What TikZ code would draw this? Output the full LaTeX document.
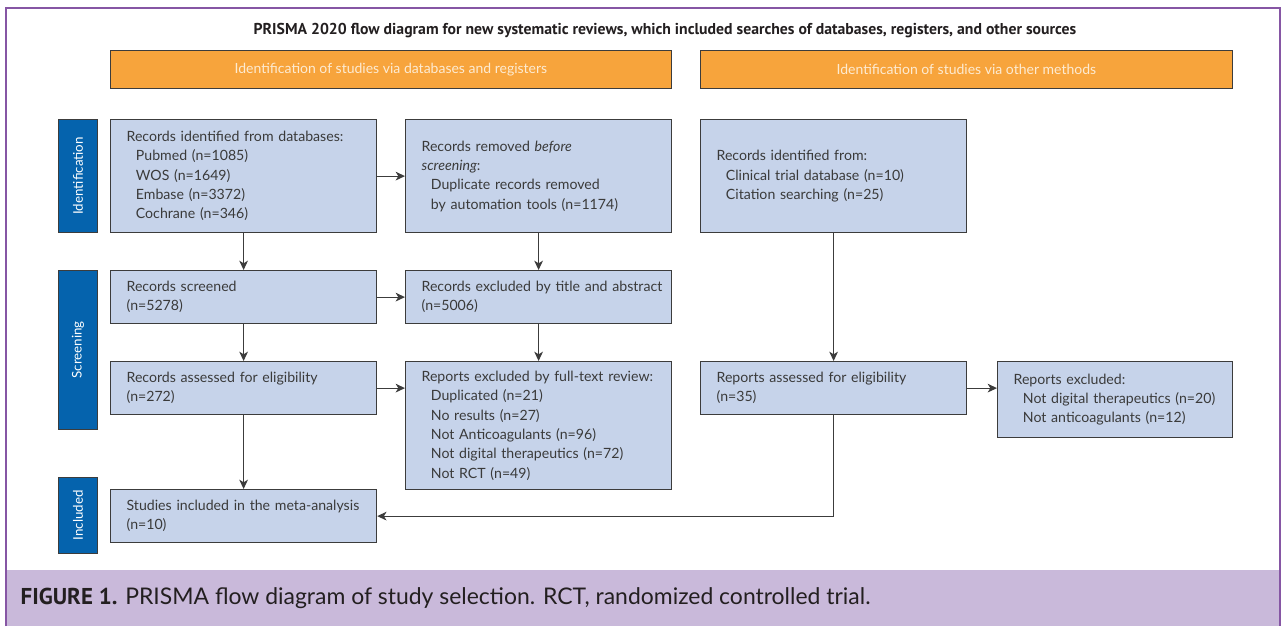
\documentclass[tikz,border=0pt]{standalone}
\usepackage{fontspec}
\setmainfont{Lato}
\newfontfamily\titlefont{PT Sans}
\usetikzlibrary{arrows.meta}
\definecolor{boxfill}{HTML}{C6D3EA}
\definecolor{boxline}{HTML}{3C3C3C}
\definecolor{tabblue}{HTML}{0563AD}
\definecolor{orangebar}{HTML}{F7A43C}
\definecolor{orangetext}{HTML}{FDEBD2}
\definecolor{framepurple}{HTML}{8656A4}
\definecolor{captionbg}{HTML}{C9B9DA}
\definecolor{txt}{HTML}{3A3A3A}
\definecolor{dark}{HTML}{231F20}
\newcommand{\ind}{\hspace*{7pt}}
\begin{document}
\begin{tikzpicture}[x=0.75pt,y=-0.75pt,
  box/.style={draw=boxline, fill=boxfill, line width=0.9pt, anchor=north west,
    inner xsep=12pt, inner ysep=0pt, align=left, text=txt,
    font=\fontsize{10.6}{14.5}\selectfont},
  wide/.style={minimum width=199.5pt, text width=175.5pt},
  narrow/.style={minimum width=176.25pt, text width=152.25pt},
  tall/.style={minimum height=84.75pt},
  short/.style={minimum height=39.75pt},
  tab/.style={draw=boxline, fill=tabblue, line width=0.6pt, anchor=north west,
    minimum width=29.25pt, inner sep=0pt, text=white,
    font=\fontsize{10}{12}\selectfont},
  bar/.style={draw=boxline, fill=orangebar, line width=0.6pt, anchor=north west,
    minimum height=28.5pt, inner sep=0pt, text=orangetext,
    font=\fontsize{10.5}{12}\selectfont},
  arr/.style={draw=boxline, line width=0.9pt, -{Stealth[length=7pt,width=6.5pt,inset=2pt]}}
]
\useasboundingbox (0,0) rectangle (1285,626);
\fill[white] (0,0) rectangle (1285,626);
\fill[captionbg] (6,570) rectangle (1280,626);
\draw[framepurple, line width=2pt] (6,626) -- (6,8) -- (1280,8) -- (1280,626);

\node[text=dark, font=\titlefont\bfseries\fontsize{11.8}{13}\selectfont] (title) at (665,31)
  {PRISMA 2020 flow diagram for new systematic reviews, which included searches of databases, registers, and other sources};

\node[bar, minimum width=420.75pt] (bar1) at (110,50) {Identification of studies via databases and registers};
\node[bar, minimum width=399pt] (bar2) at (700,50) {Identification of studies via other methods};

\node[tab, minimum height=84.75pt] (t1) at (58,119) {\rotatebox{90}{Identification}};
\node[tab, minimum height=119.25pt] (t2) at (58,270) {\rotatebox{90}{Screening}};
\node[tab, minimum height=57pt] (t3) at (58,477) {\rotatebox{90}{Included}};

\node[box, wide, tall] (A) at (110,119) {Records identified from databases:\\
  \ind Pubmed (n=1085)\\ \ind WOS (n=1649)\\ \ind Embase (n=3372)\\ \ind Cochrane (n=346)};
\node[box, wide, tall] (B) at (405,119) {Records removed \emph{before}\\ \emph{screening}:\\
  \ind Duplicate records removed\\ \ind by automation tools (n=1174)};
\node[box, wide, tall] (C) at (700,119) {Records identified from:\\
  \ind Clinical trial database (n=10)\\ \ind Citation searching (n=25)};

\node[box, wide, short] (D) at (110,270) {Records screened\\(n=5278)};
\node[box, wide, short] (E) at (405,270) {\mbox{Records excluded by title and abstract}\\(n=5006)};

\node[box, wide, short] (F) at (110,361) {Records assessed for eligibility\\(n=272)};
\node[box, wide, minimum height=96pt] (G) at (405,361) {Reports excluded by full-text review:\\
  \ind Duplicated (n=21)\\ \ind No results (n=27)\\ \ind Not Anticoagulants (n=96)\\
  \ind Not digital therapeutics (n=72)\\ \ind Not RCT (n=49)};
\node[box, wide, short] (H) at (700,361) {Reports assessed for eligibility\\(n=35)};
\node[box, narrow, minimum height=57pt] (I) at (997,361) {Reports excluded:\\
  \ind Not digital therapeutics (n=20)\\ \ind Not anticoagulants (n=12)};

\node[box, wide, short] (J) at (110,489) {Studies included in the meta-analysis\\(n=10)};

\draw[arr] (A) -- (B);
\draw[arr] (A) -- (D);
\draw[arr] (B) -- (E);
\draw[arr] (D) -- (E);
\draw[arr] (D) -- (F);
\draw[arr] (E) -- (G);
\draw[arr] (F.east) -- (F.east -| G.west);
\draw[arr] (F) -- (J);
\draw[arr] (C) -- (H);
\draw[arr] (H.east) -- (H.east -| I.west);
\draw[arr] (H.south) |- (J.east);

\node[anchor=west, text=dark, font=\fontsize{17.2}{19}\selectfont] (cap) at (16,598)
  {{\titlefont\bfseries FIGURE 1.} PRISMA flow diagram of study selection. RCT, randomized controlled trial.};
\end{tikzpicture}
\end{document}
